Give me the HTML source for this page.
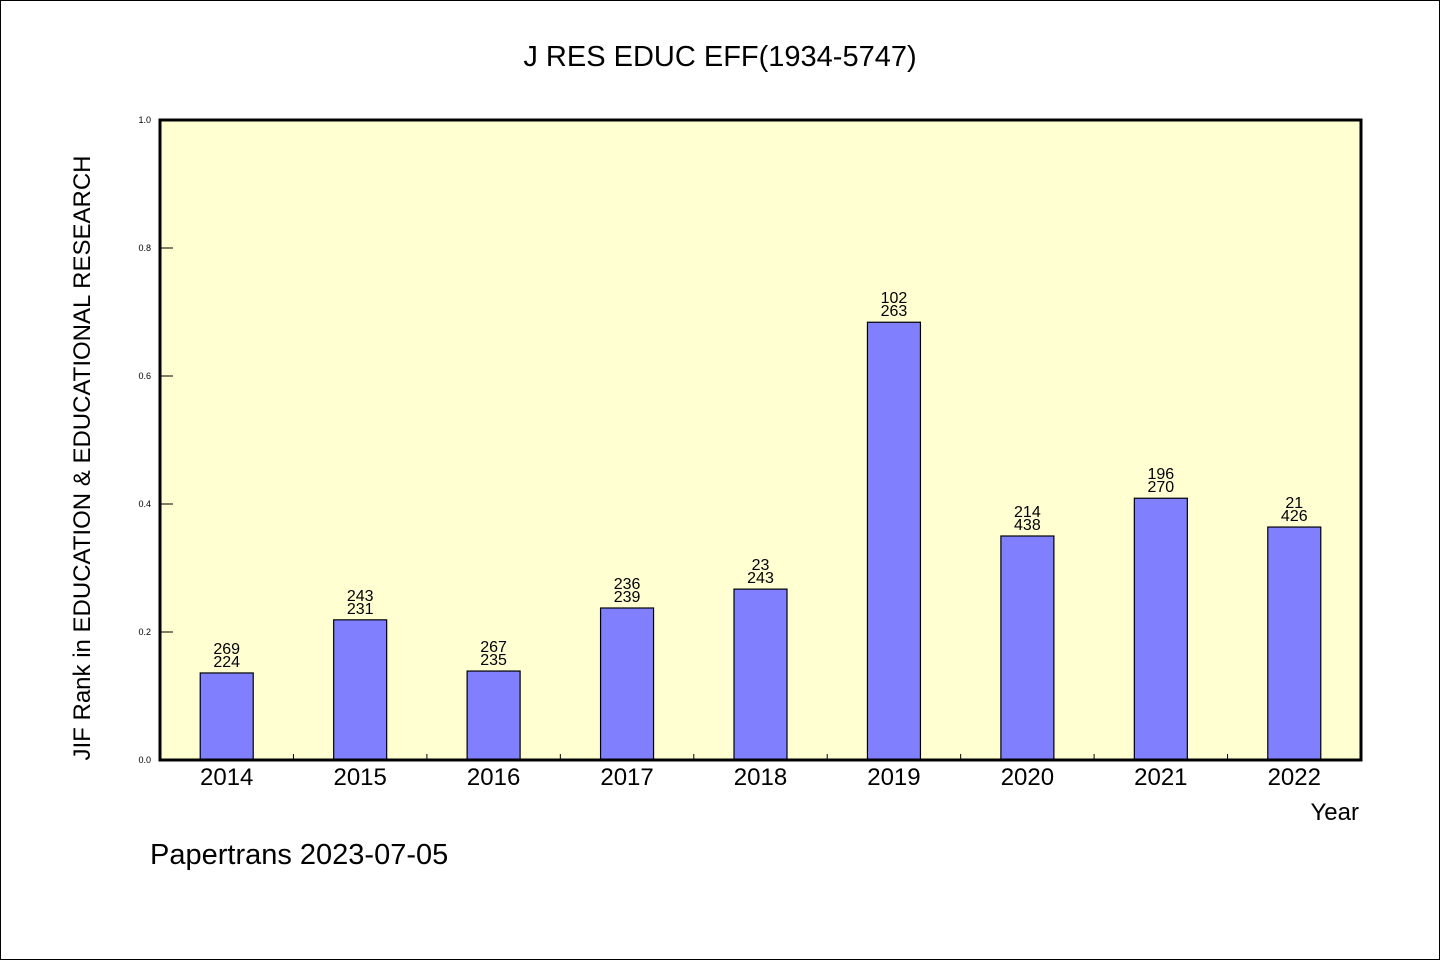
<!DOCTYPE html>
<html><head><meta charset="utf-8"><style>
body{margin:0;background:#fff}
svg text{font-family:"WenQuanYi Zen Hei","Liberation Sans",sans-serif;fill:#000}
</style></head><body>
<svg width="1440" height="960" xmlns="http://www.w3.org/2000/svg">
<rect x="0.5" y="0.5" width="1439" height="959" fill="#fff" stroke="#000"/>
<text x="720" y="66" font-size="29" text-anchor="middle">J RES EDUC EFF(1934-5747)</text>
<rect x="160" y="120" width="1201" height="640" fill="#ffffd2"/>
<g id="bars"></g>
<rect x="160" y="120" width="1201" height="640" fill="none" stroke="#000" stroke-width="3"/>
<text transform="translate(90,458) rotate(-90)" font-size="24" text-anchor="middle">JIF Rank in EDUCATION &amp; EDUCATIONAL RESEARCH</text>
<text x="1359" y="820" font-size="24" text-anchor="end">Year</text>
<text x="150" y="864" font-size="29">Papertrans 2023-07-05</text>
</svg>
<script>
const categories=["2014","2015","2016","2017","2018","2019","2020","2021","2022"];
const values=[0.136,0.219,0.139,0.2375,0.267,0.684,0.35,0.409,0.364];
const labelTop=["269","243","267","236","23","102","214","196","21"];
const labelBottom=["224","231","235","239","243","263","438","270","426"];
const yTicks=[0,0.2,0.4,0.6,0.8,1.0];
const tickLabels=["0.0","0.2","0.4","0.6","0.8","1.0"];
const NS="http://www.w3.org/2000/svg";
const svg=document.querySelector('svg');const g=document.getElementById('bars');
const x0=160,x1=1361,y0=760,y1=120;
const bw=(x1-x0)/categories.length;
const ys=v=>y0-(y0-y1)*v;
function mk(t,a,p){const e=document.createElementNS(NS,t);for(const k in a)e.setAttribute(k,a[k]);(p||svg).appendChild(e);return e;}
categories.forEach((c,i)=>{
 const cx=x0+bw*(i+0.5);
 const r=mk('rect',{x:cx-26.5,y:ys(values[i]),width:53,height:y0-ys(values[i]),fill:'#8080ff',stroke:'#000','stroke-width':1.2},g);
 
 
 const t1=mk('text',{x:cx,y:ys(values[i])-19,'font-size':16,'text-anchor':'middle'});t1.textContent=labelTop[i];
 
 
 const t2=mk('text',{x:cx,y:ys(values[i])-6,'font-size':16,'text-anchor':'middle'});t2.textContent=labelBottom[i];
 
 
 const xl=mk('text',{x:cx,y:785,'font-size':24,'text-anchor':'middle'});xl.textContent=c;
 
 
 if(i>0){const tk=mk('line',{x1:x0+bw*i,x2:x0+bw*i,y1:y0,y2:y0-6,stroke:'#000'});
 
 }
});
yTicks.forEach((v,i)=>{
 const tk=mk('line',{x1:x0,x2:x0+13,y1:ys(v),y2:ys(v),stroke:'#000'});
 
 
 const t=mk('text',{x:151,y:ys(v)+3,'font-size':9,'text-anchor':'end'});t.textContent=tickLabels[i];
 
 
});
</script>
</body></html>
